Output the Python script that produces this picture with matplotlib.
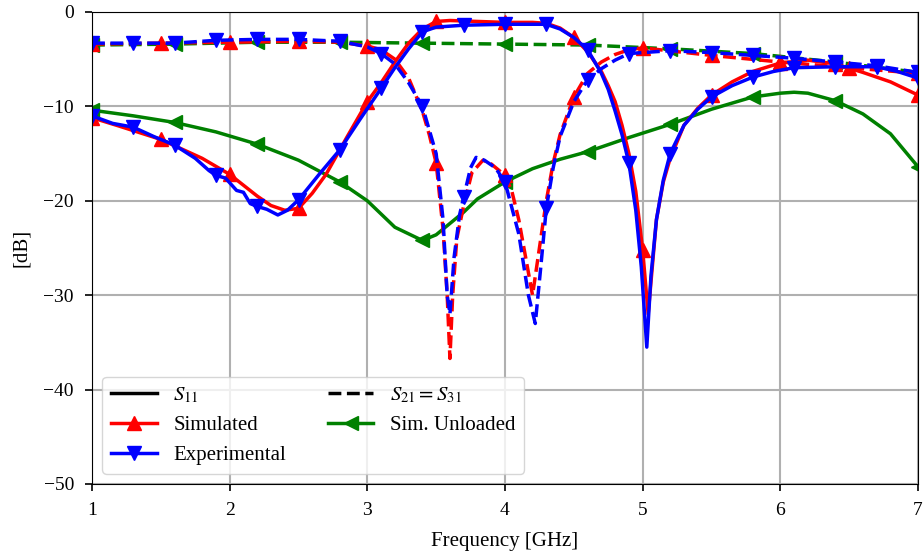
import numpy as np
import matplotlib
matplotlib.use("Agg")
import matplotlib.pyplot as plt
from matplotlib.lines import Line2D

plt.rcParams['font.family'] = ['Liberation Serif', 'DejaVu Serif']
plt.rcParams['mathtext.fontset'] = 'stix'
plt.rcParams['font.size'] = 14

# --- simulated (red) ---
sim_s11_f = [1.0, 1.2, 1.5, 1.8, 2.0, 2.2, 2.3, 2.4, 2.5, 2.6, 2.7, 2.85, 3.0, 3.1, 3.2, 3.3, 3.4, 3.5,
             3.6, 3.8, 4.0, 4.2, 4.3, 4.4, 4.5, 4.6, 4.7, 4.75, 4.8, 4.85, 4.9, 4.95, 5.0, 5.04, 5.07,
             5.1, 5.15, 5.2, 5.3, 5.4, 5.5, 5.65, 5.8, 6.0, 6.2, 6.4, 6.6, 6.8, 7.0]
sim_s11_db = [-11.2, -12.1, -13.5, -15.5, -17.2, -19.5, -20.5, -21.0, -20.8, -19.2, -17.2, -13.3, -9.5,
              -7.5, -5.3, -3.3, -1.8, -1.0, -0.9, -1.0, -1.1, -1.1, -1.2, -1.7, -2.7, -4.2, -6.3, -7.8,
              -9.5, -12.0, -15.0, -19.0, -25.2, -32.0, -27.0, -22.0, -18.0, -15.5, -12.0, -10.2, -8.8,
              -7.4, -6.3, -5.4, -5.1, -5.5, -6.4, -7.4, -8.8]
sim_s21_f = [1.0, 1.5, 2.0, 2.5, 2.8, 3.0, 3.1, 3.2, 3.3, 3.4, 3.45, 3.5, 3.55, 3.58, 3.6, 3.62, 3.65,
             3.7, 3.76, 3.84, 3.9, 4.0, 4.05, 4.1, 4.15, 4.2, 4.25, 4.3, 4.35, 4.4, 4.5, 4.6, 4.7, 4.8,
             4.9, 5.0, 5.5, 6.0, 6.5, 7.0]
sim_s21_db = [-3.4, -3.3, -3.2, -3.1, -3.2, -3.6, -4.0, -5.0, -7.0, -10.5, -13.0, -16.0, -23.0, -30.0,
              -36.7, -30.0, -24.0, -20.5, -17.0, -15.7, -16.1, -17.3, -19.0, -22.0, -26.0, -30.0, -25.0,
              -20.0, -16.0, -13.0, -9.0, -6.5, -5.3, -4.5, -4.0, -3.8, -4.6, -5.3, -5.9, -6.5]
sim_marks = [1.0, 1.5, 2.0, 2.5, 3.0, 3.5, 4.0, 4.5, 5.0, 5.5, 6.0, 6.5, 7.0]

# --- experimental (blue) ---
exp_s11_f = [1.0, 1.15, 1.3, 1.45, 1.6, 1.75, 1.85, 1.9, 1.97, 2.05, 2.1, 2.15, 2.2, 2.27, 2.35, 2.42,
             2.5, 2.65, 2.8, 2.95, 3.1, 3.2, 3.3, 3.4, 3.5, 3.7, 4.0, 4.3, 4.4, 4.5, 4.6, 4.7, 4.75, 4.8,
             4.85, 4.9, 4.95, 4.99, 5.03, 5.06, 5.1, 5.15, 5.2, 5.3, 5.4, 5.5, 5.65, 5.8, 5.95, 6.1, 6.4,
             6.7, 6.85, 7.0]
exp_s11_db = [-11.0, -11.8, -12.2, -13.2, -14.1, -15.5, -16.8, -17.3, -17.6, -18.9, -19.1, -20.3, -20.6,
              -20.9, -21.5, -21.0, -19.9, -17.2, -14.6, -11.3, -8.1, -5.9, -3.9, -2.1, -1.6, -1.4, -1.3,
              -1.3, -1.8, -2.7, -4.0, -6.5, -8.2, -10.5, -13.0, -16.0, -21.0, -27.0, -35.5, -28.0, -22.0,
              -17.8, -15.0, -12.0, -10.3, -9.0, -7.8, -6.9, -6.3, -5.9, -5.8, -5.8, -6.3, -7.0]
exp_s21_f = [1.0, 1.3, 1.6, 1.9, 2.2, 2.5, 2.8, 3.0, 3.1, 3.2, 3.3, 3.4, 3.5, 3.55, 3.58, 3.6, 3.63,
             3.67, 3.7, 3.75, 3.79, 3.85, 3.93, 4.0, 4.1, 4.17, 4.22, 4.26, 4.3, 4.35, 4.4, 4.5, 4.6, 4.7,
             4.8, 4.9, 5.2, 5.5, 5.8, 6.1, 6.4, 6.7, 7.0]
exp_s21_db = [-3.3, -3.3, -3.3, -3.0, -2.9, -2.9, -3.1, -3.7, -4.4, -5.5, -7.5, -10.0, -15.0, -22.0,
              -30.0, -32.0, -26.0, -21.5, -19.6, -16.5, -15.4, -15.7, -16.5, -18.0, -23.5, -30.0, -33.0,
              -27.0, -20.8, -16.5, -13.2, -9.5, -7.2, -6.0, -5.1, -4.4, -4.1, -4.3, -4.6, -4.9, -5.3,
              -5.7, -6.4]
exp_marks = [1.0, 1.3, 1.6, 1.9, 2.2, 2.5, 2.8, 3.1, 3.4, 3.7, 4.0, 4.3, 4.6, 4.9, 5.2, 5.5, 5.8,
             6.1, 6.4, 6.7, 7.0]

# --- simulated, unloaded (green) ---
unl_s11_f = [1.0, 1.3, 1.6, 1.9, 2.2, 2.5, 2.8, 3.0, 3.2, 3.4, 3.5, 3.7, 3.8, 4.0, 4.2, 4.4, 4.6, 4.9,
             5.2, 5.5, 5.8, 6.0, 6.1, 6.2, 6.4, 6.6, 6.8, 7.0]
unl_s11_db = [-10.4, -11.0, -11.7, -12.7, -14.0, -15.7, -18.0, -20.0, -22.8, -24.2, -23.6, -21.2, -19.8,
              -18.0, -16.6, -15.6, -14.8, -13.3, -11.9, -10.3, -9.0, -8.6, -8.5, -8.6, -9.4, -10.8,
              -12.9, -16.4]
unl_s21_f = [1.0, 1.6, 2.2, 2.8, 3.4, 4.0, 4.6, 5.2, 5.8, 6.4, 7.0]
unl_s21_db = [-3.5, -3.4, -3.2, -3.2, -3.3, -3.4, -3.5, -3.9, -4.4, -5.3, -6.4]
unl_marks = [1.0, 1.6, 2.2, 2.8, 3.4, 4.0, 4.6, 5.2, 5.8, 6.4, 7.0]


def mark_idx(f, marks):
    f = np.asarray(f)
    return [int(np.argmin(np.abs(f - m))) for m in marks]


fig, ax = plt.subplots(figsize=(9.24, 5.58), dpi=100)
fig.subplots_adjust(left=92 / 924, right=918 / 924, top=1 - 12 / 558, bottom=1 - 484 / 558)

series = [
    (unl_s11_f, unl_s11_db, unl_s21_f, unl_s21_db, unl_marks, 'green', '<'),
    (sim_s11_f, sim_s11_db, sim_s21_f, sim_s21_db, sim_marks, 'red', '^'),
    (exp_s11_f, exp_s11_db, exp_s21_f, exp_s21_db, exp_marks, 'blue', 'v'),
]
for f11, d11, f21, d21, marks, c, m in series:
    ax.plot(f21, d21, '--', color=c, marker=m, ms=10, lw=2.5,
            markevery=mark_idx(f21, marks))
    ax.plot(f11, d11, '-', color=c, marker=m, ms=10, lw=2.5,
            markevery=mark_idx(f11, marks))

ax.set_xlim(1, 7)
ax.set_ylim(-50, 0)
ax.set_xticks([1, 2, 3, 4, 5, 6, 7])
ax.set_yticks([-50, -40, -30, -20, -10, 0])
ax.set_yticklabels(['\u221250', '\u221240', '\u221230', '\u221220', '\u221210', '0'])
ax.tick_params(length=5, width=1.2, pad=8)
ax.grid(True, color='#b0b0b0', lw=1.5)
ax.set_axisbelow(True)
ax.set_xlabel('Frequency [GHz]', fontsize=15, labelpad=9)
ax.set_ylabel('[dB]', fontsize=15, labelpad=9)

handles = [
    Line2D([], [], color='k', ls='-', lw=2.5),
    Line2D([], [], color='red', marker='^', ms=10, lw=2.5),
    Line2D([], [], color='blue', marker='v', ms=10, lw=2.5),
    Line2D([], [], color='k', ls='--', lw=2.5),
    Line2D([], [], color='green', marker='<', ms=10, lw=2.5),
]
labels = ['$S_{11}$', 'Simulated', 'Experimental', '$S_{21} = S_{31}$', 'Sim. Unloaded']
ax.legend(handles, labels, loc='lower left', ncol=2, fontsize=15, handlelength=2.2,
          columnspacing=2.0, labelspacing=0.5)

fig.savefig('out.png', dpi=100)
